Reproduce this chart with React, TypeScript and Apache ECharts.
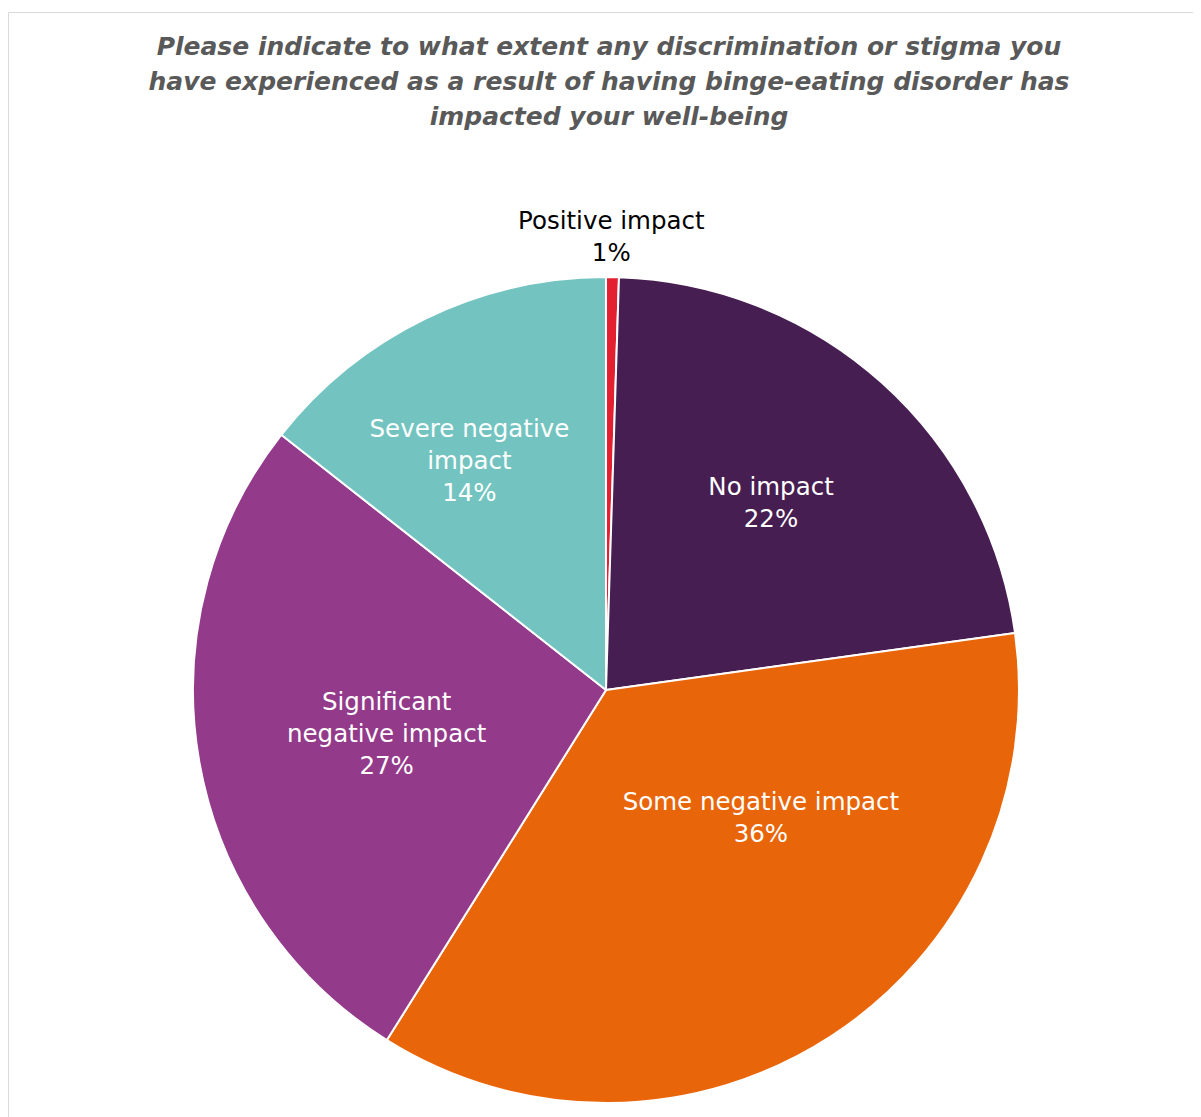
import React, { useEffect, useRef } from "react";
import * as echarts from "echarts";

const titleText =
  "Please indicate to what extent any discrimination or stigma you\nhave experienced as a result of having binge-eating disorder has\nimpacted your well-being";

const categories = [
  "Positive impact",
  "No impact",
  "Some negative impact",
  "Significant\nnegative impact",
  "Severe negative\nimpact",
];
const values = [0.5, 22.3, 36.1, 26.7, 14.4];
const colors = ["#e3202f", "#461e52", "#e8650a", "#933a8a", "#73c4c0"];
const labelColors = ["#000000", "#ffffff", "#ffffff", "#ffffff", "#ffffff"];
// label nudges (dx, dy) from the default inside position
const labelShift: [number, number][] = [
  [2, -244],
  [25, -32],
  [41, -48],
  [-13, 7],
  [-45, -41],
];

export default function App() {
  const ref = useRef<HTMLDivElement>(null);
  useEffect(() => {
    if (!ref.current) return;
    const chart = echarts.init(ref.current, null, { renderer: "svg" });
    chart.setOption({
      animation: false,
      backgroundColor: "#ffffff",
      graphic: [
        {
          type: "rect",
          shape: { x: 0.5, y: 4.5, width: 1220, height: 1140 },
          style: { fill: "none", stroke: "#d9d9d9", lineWidth: 1 },
          silent: true,
        },
      ],
      title: {
        text: titleText,
        left: 596,
        top: 16,
        textAlign: "center",
        textStyle: {
          fontFamily: "DejaVu Sans",
          fontWeight: "bold",
          fontStyle: "italic",
          fontSize: 25,
          lineHeight: 35,
          color: "#595959",
        },
      },
      series: [
        {
          type: "pie",
          center: [598, 682],
          radius: 413,
          startAngle: 90,
          clockwise: true,
          avoidLabelOverlap: false,
          itemStyle: { borderColor: "#ffffff", borderWidth: 2 },
          label: {
            show: true,
            position: "inside",
            fontFamily: "DejaVu Sans",
            fontSize: 24.5,
            lineHeight: 32,
            align: "center",
            formatter: (p: any) => `${p.name}\n${Math.round(p.value)}%`,
          },
          labelLine: { show: false },
          labelLayout: (p: any) => ({
            dx: labelShift[p.dataIndex][0],
            dy: labelShift[p.dataIndex][1],
          }),
          data: categories.map((c, i) => ({
            name: c,
            value: values[i],
            itemStyle: { color: colors[i] },
            label: { color: labelColors[i] },
          })),
        },
      ],
    });
    return () => chart.dispose();
  }, []);
  return <div ref={ref} style={{ width: 1193, height: 1109 }} />;
}
